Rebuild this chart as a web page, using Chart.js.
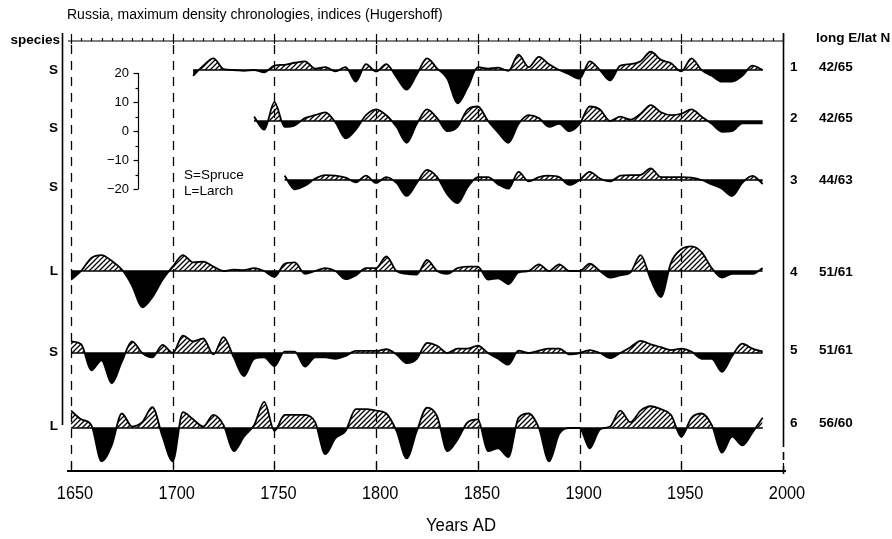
<!DOCTYPE html>
<html>
<head>
<meta charset="utf-8">
<script src="https://cdn.jsdelivr.net/npm/chart.js@4"></script>
<style>
  html, body { margin: 0; padding: 0; background: #fff; }
  #wrap { width: 892px; height: 539px; }
</style>
</head>
<body>
<div id="wrap"><canvas id="chron" width="892" height="539"></canvas></div>
<script>
// years (5-year steps) shared by all six chronologies
const years = [1650, 1655, 1660, 1665, 1670, 1675, 1680, 1685, 1690, 1695,
  1700, 1705, 1710, 1715, 1720, 1725, 1730, 1735, 1740, 1745,
  1750, 1755, 1760, 1765, 1770, 1775, 1780, 1785, 1790, 1795,
  1800, 1805, 1810, 1815, 1820, 1825, 1830, 1835, 1840, 1845,
  1850, 1855, 1860, 1865, 1870, 1875, 1880, 1885, 1890, 1895,
  1900, 1905, 1910, 1915, 1920, 1925, 1930, 1935, 1940, 1945,
  1950, 1955, 1960, 1965, 1970, 1975, 1980, 1985, 1990];

const _ = null;
// index deviations
const site1 = [_, _, _, _, _, _, _, _, _, _,
  _, _, -2, 1.5, 4, 0.3, 0, -0.3, 0, -0.8,
  1.5, 1.8, 2.5, 3, 0.5, 1, -0.5, 1, -4, 2,
  -0.5, 2, -2.5, -6.8, -1.5, 4, 0.5, -3, -11.5, -6,
  1, 0.5, 0.8, -0.3, 5.3, 1, 4.5, 2, 0, -1.5,
  -3, 3, 0, -3.6, 1.5, 2, 3, 6.3, 3.5, 2.3,
  -0.5, 4, 0, -2, -4, -4, -2, 1.5, 0];
const site2 = [_, _, _, _, _, _, _, _, _, _,
  _, _, _, _, _, _, _, _, 1.5, -3,
  6.5, -2, -1.5, 1, 2, 3, -0.5, -6, -3, 2,
  4, 2, -2, -7.5, -1, 4, 1, -3.5, -2, 4,
  5, 0, -4, -7.5, -1, 2, 1, -2, -1, -3.5,
  -1, 5, 4, 0, 1.5, 0.5, 2.5, 5.5, 3, 2,
  2.5, 4, 1.5, -1, -3.7, -3.5, -0.8, -0.8, -0.8];
const site3 = [_, _, _, _, _, _, _, _, _, _,
  _, _, _, _, _, _, _, _, _, _,
  _, 1.5, -3.2, -2, 0.5, 1.7, 1.5, 0.8, -0.8, 1.5,
  -1, 1, -1, -5.5, -1, 3.5, 1, -5, -8, -2.5,
  1, 1, -1.5, -3, 2.8, -0.5, 1, 1.5, 1, -1.7,
  0, 2.8, 0.5, -0.5, 1.5, 1.7, 1.8, 4, 1, 1,
  1, 0.8, 0, -1.5, -3, -5.5, -1, 1.4, -1.4];
const site4 = [-3, 0, 4.5, 5.5, 3.5, 0.5, -5, -12.5, -9, -3,
  1.5, 5.5, 3, 3.2, 1.5, 0, 0.5, 0.3, 1, 0,
  -2, 2.5, 3, -1, 0, 1, 0, -2.8, -1.5, 1,
  1, 5, 0, -1, -1.2, 3.8, 0, -1, 1, 1.5,
  1.5, -3, -2.5, -4.5, -0.5, 0, 2.3, 0, 2.3, 0,
  0, 2.5, 0, -2.3, -1.5, -0.5, 5.5, -3, -9, 3,
  7.5, 8.5, 6.5, 1, -2.3, -1, -1, -1, 1];
const site5 = [4, 3, -6, -2.5, -10.5, -3, 4, 0, -1.5, 2.8,
  0, 6, 4, 5, -0.5, 5.5, -1.5, -8, -2, -1.5,
  -4.5, 0.5, 0.5, -4.7, -1.5, -1.5, -2, -1, 0.7, 0.7,
  0.7, 1.3, -0.5, -3.5, -2, 3.5, 2.5, 0, 1.5, 1.5,
  2.5, 0, -2, -4, 0.8, 0, 0.8, 1.5, 1.5, -0.5,
  0, 1, 0, -1.8, 0, 2, 4.2, 3, 2, 1,
  1.5, 0.5, -2, -2, -6.5, -1, 3.2, 1.5, 0.5];
const site6 = [6, 3, 1, -11.5, -6, 5, 0.5, 2, 7.2, -3,
  -11.5, 5.5, 3, 0.5, 4.5, 1, -8, -3, 1, 9,
  -1, 4.5, 4.5, 4.5, 2, -9, -3.5, -1, 6.5, 6.5,
  6, 5, -1, -10.5, -1, 7, 4, -8, -4, 2,
  3, -8, -7, -10, 3.5, 5, 0, -11.5, -2, 0,
  0, -7, -0.5, 0.5, 6, 2, 6, 7.5, 6.5, 4.5,
  -3, 3.5, 5, 1, -8.5, -3, -6, -1.5, 3.5];

const series = [site1, site2, site3, site4, site5, site6];
const species = ["S", "S", "S", "L", "S", "L"];
const siteNo = ["1", "2", "3", "4", "5", "6"];
const coords = ["42/65", "42/65", "44/63", "51/61", "51/61", "56/60"];
const xTicks = [1650, 1700, 1750, 1800, 1850, 1900, 1950, 2000];
const barTicks = [20, 10, 0, -10, -20];

// layout: pixel rows of each baseline, 2.9 px per index unit
const PX = 2.9;
const TOP = 41, BOTTOM = 471;
const rowY = [70, 121, 180, 271, 353, 428];
const labelY = [70, 128, 187, 271, 352, 426];
const rightY = [67, 118, 180, 272, 350, 423];
const offsets = rowY.map((y) => (BOTTOM - y) / PX);
const barZero = (BOTTOM - 131) / PX;

function hatch() {
  const c = document.createElement("canvas");
  c.width = 5;
  c.height = 5;
  const g = c.getContext("2d");
  g.strokeStyle = "#000";
  g.lineWidth = 1.3;
  g.beginPath();
  g.moveTo(-1, 6); g.lineTo(6, -1);
  g.moveTo(-1, 1); g.lineTo(1, -1);
  g.moveTo(4, 6); g.lineTo(6, 4);
  g.stroke();
  return g.createPattern(c, "repeat");
}
const pattern = hatch();

const FONT = "'Liberation Sans', Arial, sans-serif";

// condensed text like the scanned figure
function narrowText(ctx, text, x, y, sx) {
  ctx.save();
  ctx.translate(x, y);
  ctx.scale(sx, 1);
  ctx.fillText(text, 0, 0);
  ctx.restore();
}

const decor = {
  id: "decor",
  beforeDatasetsDraw(chart) {
    const { ctx } = chart;
    const x = chart.scales.x;
    ctx.save();
    ctx.strokeStyle = "#000";
    ctx.lineWidth = 1.3;
    ctx.setLineDash([9, 7]);
    xTicks.slice(0, -1).forEach((yr) => {
      const px = Math.round(x.getPixelForValue(yr)) + 0.5;
      ctx.beginPath();
      ctx.moveTo(px, TOP + 4);
      ctx.lineTo(px, BOTTOM - 2);
      ctx.stroke();
    });
    ctx.restore();
  },
  afterDatasetsDraw(chart) {
    const { ctx } = chart;
    const x = chart.scales.x;
    const y = chart.scales.y;
    ctx.save();
    ctx.strokeStyle = "#000";
    ctx.fillStyle = "#000";

    // baselines under each chronology
    ctx.lineWidth = 1.6;
    series.forEach((vals, i) => {
      const first = vals.findIndex((v) => v !== null);
      const py = y.getPixelForValue(offsets[i]);
      ctx.beginPath();
      ctx.moveTo(x.getPixelForValue(years[first]), py);
      ctx.lineTo(x.getPixelForValue(years[years.length - 1]), py);
      ctx.stroke();
    });

    // top axis with 5-year ticks
    const x0 = x.getPixelForValue(1650);
    const x1 = x.getPixelForValue(2000);
    ctx.lineWidth = 1.2;
    ctx.beginPath();
    ctx.moveTo(x0 - 3, TOP);
    ctx.lineTo(x1, TOP);
    ctx.stroke();
    for (let yr = 1650; yr <= 2000; yr += 5) {
      const px = Math.round(x.getPixelForValue(yr)) + 0.5;
      const major = yr % 50 === 0;
      ctx.beginPath();
      ctx.moveTo(px, TOP - (major ? 7 : 3));
      ctx.lineTo(px, TOP + (major ? 3 : 0));
      ctx.stroke();
    }

    // left and right frame lines
    ctx.lineWidth = 1.6;
    ctx.beginPath();
    ctx.moveTo(62.5, 33);
    ctx.lineTo(62.5, 425);
    ctx.moveTo(x1 + 0.5, 33);
    ctx.lineTo(x1 + 0.5, 447);
    ctx.stroke();
    ctx.setLineDash([8, 6]);
    ctx.beginPath();
    ctx.moveTo(x1 + 0.5, 452);
    ctx.lineTo(x1 + 0.5, 477);
    ctx.stroke();
    ctx.setLineDash([]);

    // bottom axis
    ctx.lineWidth = 2;
    ctx.beginPath();
    ctx.moveTo(x0 - 4, BOTTOM);
    ctx.lineTo(x1 + 3, BOTTOM);
    ctx.stroke();
    ctx.lineWidth = 1.2;
    xTicks.forEach((yr) => {
      const px = Math.round(x.getPixelForValue(yr)) + 0.5;
      ctx.beginPath();
      ctx.moveTo(px, BOTTOM - 8);
      ctx.lineTo(px, BOTTOM);
      ctx.stroke();
    });
    ctx.font = "19px " + FONT;
    ctx.textAlign = "center";
    ctx.textBaseline = "middle";
    xTicks.forEach((yr) => {
      narrowText(ctx, String(yr), x.getPixelForValue(yr) + 4, 494, 0.86);
    });
    narrowText(ctx, "Years AD", 461, 526, 0.88);

    // scale bar
    const bx = 138.5;
    ctx.lineWidth = 1.2;
    ctx.beginPath();
    ctx.moveTo(bx, y.getPixelForValue(barZero + 20));
    ctx.lineTo(bx, y.getPixelForValue(barZero - 20));
    ctx.stroke();
    for (let v = -20; v <= 20; v += 5) {
      const py = Math.round(y.getPixelForValue(barZero + v)) + 0.5;
      ctx.beginPath();
      ctx.moveTo(bx - (v % 10 === 0 ? 5 : 3), py);
      ctx.lineTo(bx, py);
      ctx.stroke();
    }
    ctx.font = "13px " + FONT;
    ctx.textAlign = "right";
    barTicks.forEach((v) => {
      const lab = v < 0 ? "\u2212" + Math.abs(v) : String(v);
      ctx.fillText(lab, 129, y.getPixelForValue(barZero + v));
    });
    ctx.textAlign = "left";
    ctx.font = "13.5px " + FONT;
    ctx.fillText("S=Spruce", 184, 175);
    ctx.fillText("L=Larch", 184, 191);

    // title and side labels
    ctx.font = "14px " + FONT;
    ctx.fillText("Russia, maximum density chronologies, indices (Hugershoff)", 67, 15);
    ctx.font = "bold 13.5px " + FONT;
    ctx.textAlign = "right";
    ctx.fillText("species", 60, 40);
    species.forEach((s, i) => ctx.fillText(s, 58, labelY[i]));
    ctx.textAlign = "left";
    ctx.fillText("long E/lat N", 816, 38);
    siteNo.forEach((n, i) => ctx.fillText(n, 790, rightY[i]));
    coords.forEach((c, i) => ctx.fillText(c, 819, rightY[i]));
    ctx.restore();
  },
};

new Chart(document.getElementById("chron"), {
  type: "line",
  data: {
    datasets: series.map((vals, i) => ({
      label: "site " + siteNo[i],
      data: years.map((yr, k) => ({ x: yr, y: vals[k] === null ? null : vals[k] + offsets[i] })),
      borderColor: "#000",
      borderWidth: 1.8,
      pointRadius: 0,
      cubicInterpolationMode: "monotone",
      fill: { target: { value: offsets[i] }, above: pattern, below: "#000" },
    })),
  },
  options: {
    responsive: false,
    animation: false,
    devicePixelRatio: 1,
    layout: { padding: { left: 71, right: 892 - 783, top: TOP, bottom: 539 - BOTTOM } },
    plugins: { legend: { display: false }, tooltip: { enabled: false }, title: { display: false } },
    scales: {
      x: { type: "linear", min: 1650, max: 2000, display: false },
      y: { type: "linear", min: 0, max: (BOTTOM - TOP) / PX, display: false },
    },
  },
  plugins: [decor],
});
</script>
</body>
</html>
